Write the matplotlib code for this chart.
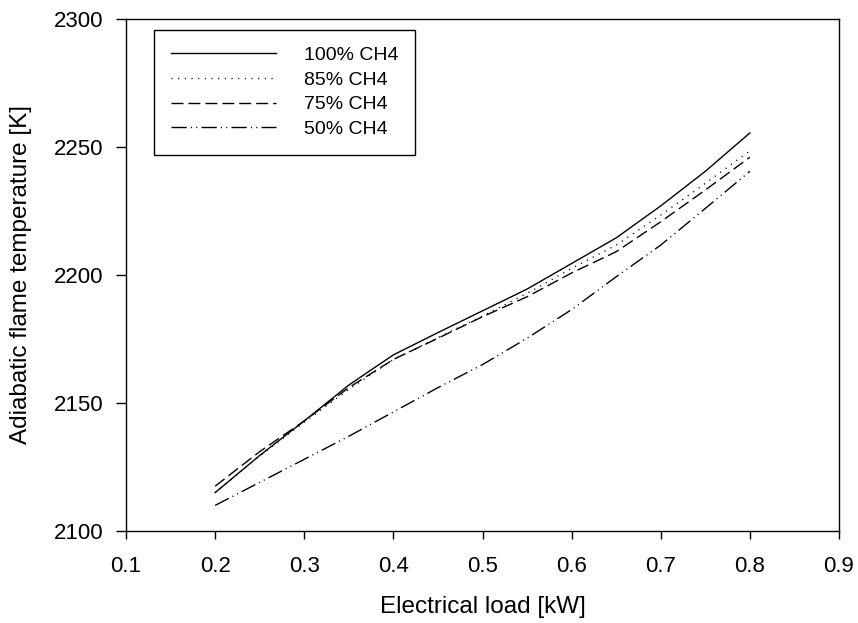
import matplotlib
matplotlib.use("Agg")
import matplotlib.pyplot as plt

plt.rcParams['font.family'] = ['Liberation Sans', 'DejaVu Sans']

load_kw = [0.2, 0.25, 0.3, 0.35, 0.4, 0.45, 0.5, 0.55, 0.6, 0.65, 0.7, 0.75, 0.8]
ch4_100 = [2115.0, 2129.5, 2143.0, 2157.0, 2168.8, 2177.5, 2186.0, 2194.5, 2204.5, 2214.5, 2227.0, 2240.5, 2255.5]
ch4_85 = [2115.0, 2129.3, 2142.5, 2155.3, 2167.0, 2175.5, 2184.0, 2192.8, 2202.6, 2211.7, 2223.4, 2235.8, 2248.5]
ch4_75 = [2117.5, 2131.0, 2143.0, 2156.0, 2167.0, 2175.3, 2183.7, 2191.5, 2200.8, 2209.1, 2220.8, 2233.2, 2246.0]
ch4_50 = [2110.0, 2119.0, 2128.0, 2137.0, 2146.5, 2156.0, 2165.0, 2175.3, 2186.5, 2199.3, 2211.7, 2226.0, 2240.5]
labels = ['100% CH4', '85% CH4', '75% CH4', '50% CH4']
xticks = [0.1, 0.2, 0.3, 0.4, 0.5, 0.6, 0.7, 0.8, 0.9]
yticks = [2100, 2150, 2200, 2250, 2300]

fig = plt.figure(figsize=(8.58, 6.23), dpi=100)
ax = fig.add_axes([126/858, 1-531/623, 713/858, 512/623])

styles = ['-', (0, (0.8, 4.0)), (0, (8.6, 3.6)), (0, (11, 3, 0.8, 3, 0.8, 3))]
for series, lab, ls in zip([ch4_100, ch4_85, ch4_75, ch4_50], labels, styles):
    ax.plot(load_kw, series, color='black', lw=1.0, linestyle=ls, label=lab)

ax.set_xlim(0.1, 0.9)
ax.set_ylim(2100, 2300)
ax.set_xticks(xticks)
ax.set_yticks(yticks)
ax.set_xticklabels([f'{v:.1f}' for v in xticks])
ax.set_yticklabels([str(v) for v in yticks])
ax.tick_params(axis='x', direction='out', length=6, width=1, labelsize=16, pad=12, color='black')
ax.tick_params(axis='y', direction='out', length=7, width=1, labelsize=16, pad=9, color='black')
for s in ax.spines.values():
    s.set_linewidth(1.0)

ax.set_xlabel('Electrical load [kW]', fontsize=17.5, labelpad=14)
ax.set_ylabel('Adiabatic flame temperature [K]', fontsize=17.5, labelpad=16)

leg = ax.legend(loc='upper left', bbox_to_anchor=(0.0393, 0.9785), borderaxespad=0,
                fontsize=14, handlelength=5.4, handletextpad=1.44, borderpad=0.85,
                labelspacing=0.36, fancybox=False, framealpha=1, edgecolor='black')
leg.get_frame().set_linewidth(1.0)

fig.savefig('out.png', dpi=100)
